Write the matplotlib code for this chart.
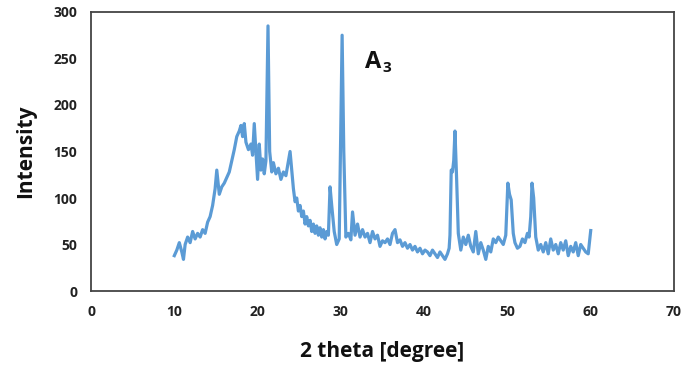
import numpy as np
import matplotlib.pyplot as plt

plt.rcParams['font.family'] = ['Open Sans', 'DejaVu Sans']

# значения (2θ, интенсивность)
two_theta = [10.0, 10.3, 10.6, 10.9, 11.1, 11.3, 11.6, 11.9, 12.2, 12.5, 12.8, 13.1, 13.4,
             13.7, 14.0, 14.3, 14.6, 14.9, 15.1, 15.4, 15.7, 16.0, 16.3, 16.6, 16.9,
             17.2, 17.5, 17.8, 18.0, 18.2, 18.4, 18.6, 18.9, 19.2, 19.4, 19.6, 19.8,
             20.0, 20.2, 20.4, 20.6, 20.8, 21.0, 21.25, 21.45, 21.7, 21.9, 22.2, 22.5,
             22.8, 23.1, 23.4, 23.7, 23.9, 24.1, 24.3, 24.5, 24.7, 24.9, 25.1, 25.3,
             25.5, 25.7, 25.9, 26.1, 26.3, 26.5, 26.7, 26.9, 27.1, 27.3, 27.5, 27.7,
             27.9, 28.1, 28.3, 28.5, 28.7, 28.9, 29.2, 29.5, 29.8, 30.0, 30.15, 30.35,
             30.6, 30.9, 31.2, 31.4, 31.7, 32.0, 32.3, 32.6, 32.9, 33.2, 33.5, 33.8,
             34.1, 34.4, 34.7, 35.0, 35.3, 35.6, 35.9, 36.2, 36.5, 36.8, 37.1, 37.4,
             37.7, 38.0, 38.3, 38.6, 38.9, 39.2, 39.5, 39.8, 40.1, 40.4, 40.7, 41.0,
             41.3, 41.6, 41.9, 42.2, 42.5, 42.8, 43.0, 43.1, 43.25, 43.4, 43.55, 43.7,
             43.9, 44.1, 44.4, 44.7, 45.0, 45.3, 45.6, 45.9, 46.2, 46.5, 46.8, 47.1,
             47.4, 47.7, 48.0, 48.3, 48.6, 48.9, 49.2, 49.5, 49.8, 50.05, 50.25, 50.45,
             50.7, 50.9, 51.2, 51.5, 51.8, 52.1, 52.4, 52.6, 52.8, 52.95, 53.15, 53.4,
             53.7, 54.0, 54.3, 54.6, 54.9, 55.2, 55.5, 55.8, 56.1, 56.4, 56.7, 57.0,
             57.3, 57.6, 57.9, 58.2, 58.5, 58.8, 59.1, 59.4, 59.7, 60.0]
intensity = [38, 44, 52, 42, 34, 50, 58, 52, 64, 56, 62, 58, 66,
             62, 74, 80, 92, 110, 130, 104, 112, 116, 122, 128, 140,
             152, 166, 172, 178, 166, 180, 160, 152, 158, 146, 180, 150,
             120, 158, 130, 142, 126, 140, 285, 150, 128, 138, 126, 132,
             120, 128, 124, 140, 150, 130, 110, 96, 100, 86, 92, 80,
             86, 72, 80, 70, 76, 64, 72, 62, 70, 60, 68, 58,
             66, 56, 64, 60, 112, 92, 64, 50, 56, 180, 275, 150,
             58, 62, 55, 85, 60, 72, 58, 66, 58, 62, 52, 64,
             56, 60, 48, 54, 52, 56, 50, 62, 66, 52, 55, 48,
             52, 46, 50, 44, 48, 42, 46, 40, 44, 42, 38, 44,
             40, 36, 42, 38, 34, 40, 46, 60, 130, 128, 140, 172,
             120, 62, 44, 58, 50, 60, 48, 42, 64, 40, 52, 44,
             34, 48, 42, 56, 52, 58, 54, 50, 60, 116, 104, 98,
             62, 52, 46, 48, 56, 52, 62, 58, 80, 116, 100, 58,
             44, 50, 42, 52, 40, 56, 44, 50, 40, 52, 44, 54,
             38, 48, 42, 52, 38, 50, 46, 42, 40, 65]

x_ticks = [0, 10, 20, 30, 40, 50, 60, 70]
y_ticks = [0, 50, 100, 150, 200, 250, 300]

fig = plt.figure(figsize=(6.97, 3.71), dpi=100)
ax = fig.add_axes([0.1306, 0.2156, 0.8364, 0.7521])

ax.plot(two_theta, intensity, color='#5b9bd5', linewidth=2.3, solid_joinstyle='round')

ax.set_xlim(0, 70)
ax.set_ylim(0, 300)
ax.set_xticks(x_ticks)
ax.set_yticks(y_ticks)
ax.tick_params(length=0, labelsize=10, pad=10)
for lbl in ax.get_xticklabels() + ax.get_yticklabels():
    lbl.set_fontweight('bold')
    lbl.set_color('#222222')

for s in ax.spines.values():
    s.set_color('#444444')
    s.set_linewidth(1.3)

ax.set_xlabel('2 theta [degree]', fontsize=15, fontweight='bold', labelpad=16, color='#111111')
ax.set_ylabel('Intensity', fontsize=15, fontweight='bold', labelpad=12, color='#111111')

ax.text(32.9, 240, 'A', fontsize=17, fontweight='bold', color='#111111')
ax.text(35.0, 236, '3', fontsize=11, fontweight='bold', color='#111111')

fig.savefig('out.png', dpi=100)
